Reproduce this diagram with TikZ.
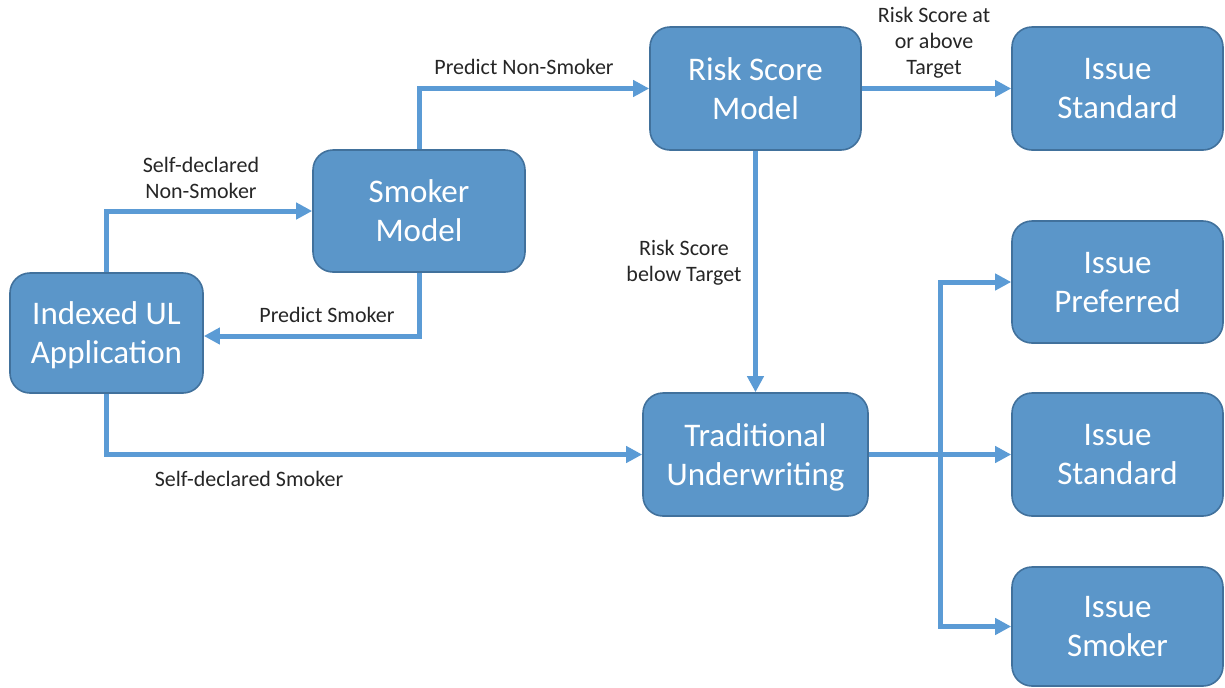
\documentclass[tikz,border=0pt]{standalone}
\usepackage{fontspec}
\setmainfont{Carlito}
\usetikzlibrary{arrows.meta}
\definecolor{boxfill}{HTML}{5B96C9}
\definecolor{boxline}{HTML}{41719C}
\definecolor{arr}{HTML}{5B9BD5}
\definecolor{lbl}{HTML}{262626}
\begin{document}
\begin{tikzpicture}[x=0.5pt,y=-0.5pt,
 box/.style={draw=boxline, line width=0.8pt, fill=boxfill, rounded corners=10pt, text=white, align=center, font=\fontsize{16.5}{19.5}\selectfont, inner sep=0pt, text depth=0pt},
 conn/.style={draw=arr, line width=2.5pt, -{Triangle[length=8pt,width=8pt]}},
 lab/.style={text=lbl, align=center, font=\fontsize{11}{13}\selectfont, inner sep=0pt}]
\useasboundingbox (0,0) rectangle (1225,687);
\node[box, minimum width=96.5pt, minimum height=60pt] (app) at (106.5,333) {Indexed UL\\Application};
\node[box, minimum width=106pt, minimum height=61pt] (smk) at (419,211) {Smoker\\Model};
\node[box, minimum width=105.5pt, minimum height=61.5pt] (risk) at (755.5,88.5) {Risk Score\\Model};
\node[box, minimum width=105.5pt, minimum height=61.5pt] (std1) at (1117.5,88.5) {Issue\\Standard};
\node[box, minimum width=112.5pt, minimum height=61.5pt] (trad) at (755.5,454.5) {Traditional\\Underwriting};
\node[box, minimum width=105.5pt, minimum height=61pt] (pref) at (1117.5,282) {Issue\\Preferred};
\node[box, minimum width=105.5pt, minimum height=61.5pt] (std2) at (1117.5,454.5) {Issue\\Standard};
\node[box, minimum width=105.5pt, minimum height=59.5pt] (ismk) at (1117.5,626.5) {Issue\\Smoker};
\coordinate (split) at (940,454.5);
\draw[conn] (app.north) |- (smk.west);
\draw[conn] (smk.south) |- ([yshift=-1.5pt]app.east);
\draw[conn] (smk.north) |- (risk.west);
\draw[conn] (risk.east) -- (std1.west);
\draw[conn] (risk.south) -- (trad.north);
\draw[conn] (app.south) |- (trad.west);
\draw[conn] (trad.east) -- (std2.west);
\draw[conn] (split) |- (pref.west);
\draw[conn] (split) |- (ismk.west);
\node[lab] (l1) at (201,178) {Self-declared\\Non-Smoker};
\node[lab] (l2) at (327,315) {Predict Smoker};
\node[lab] (l3) at (524,67) {Predict Non-Smoker};
\node[lab] (l4) at (934,43) {Risk Score at\\or above\\Target};
\node[lab] (l5) at (684,263) {Risk Score\\below Target};
\node[lab] (l6) at (249,479) {Self-declared Smoker};
\end{tikzpicture}
\end{document}
